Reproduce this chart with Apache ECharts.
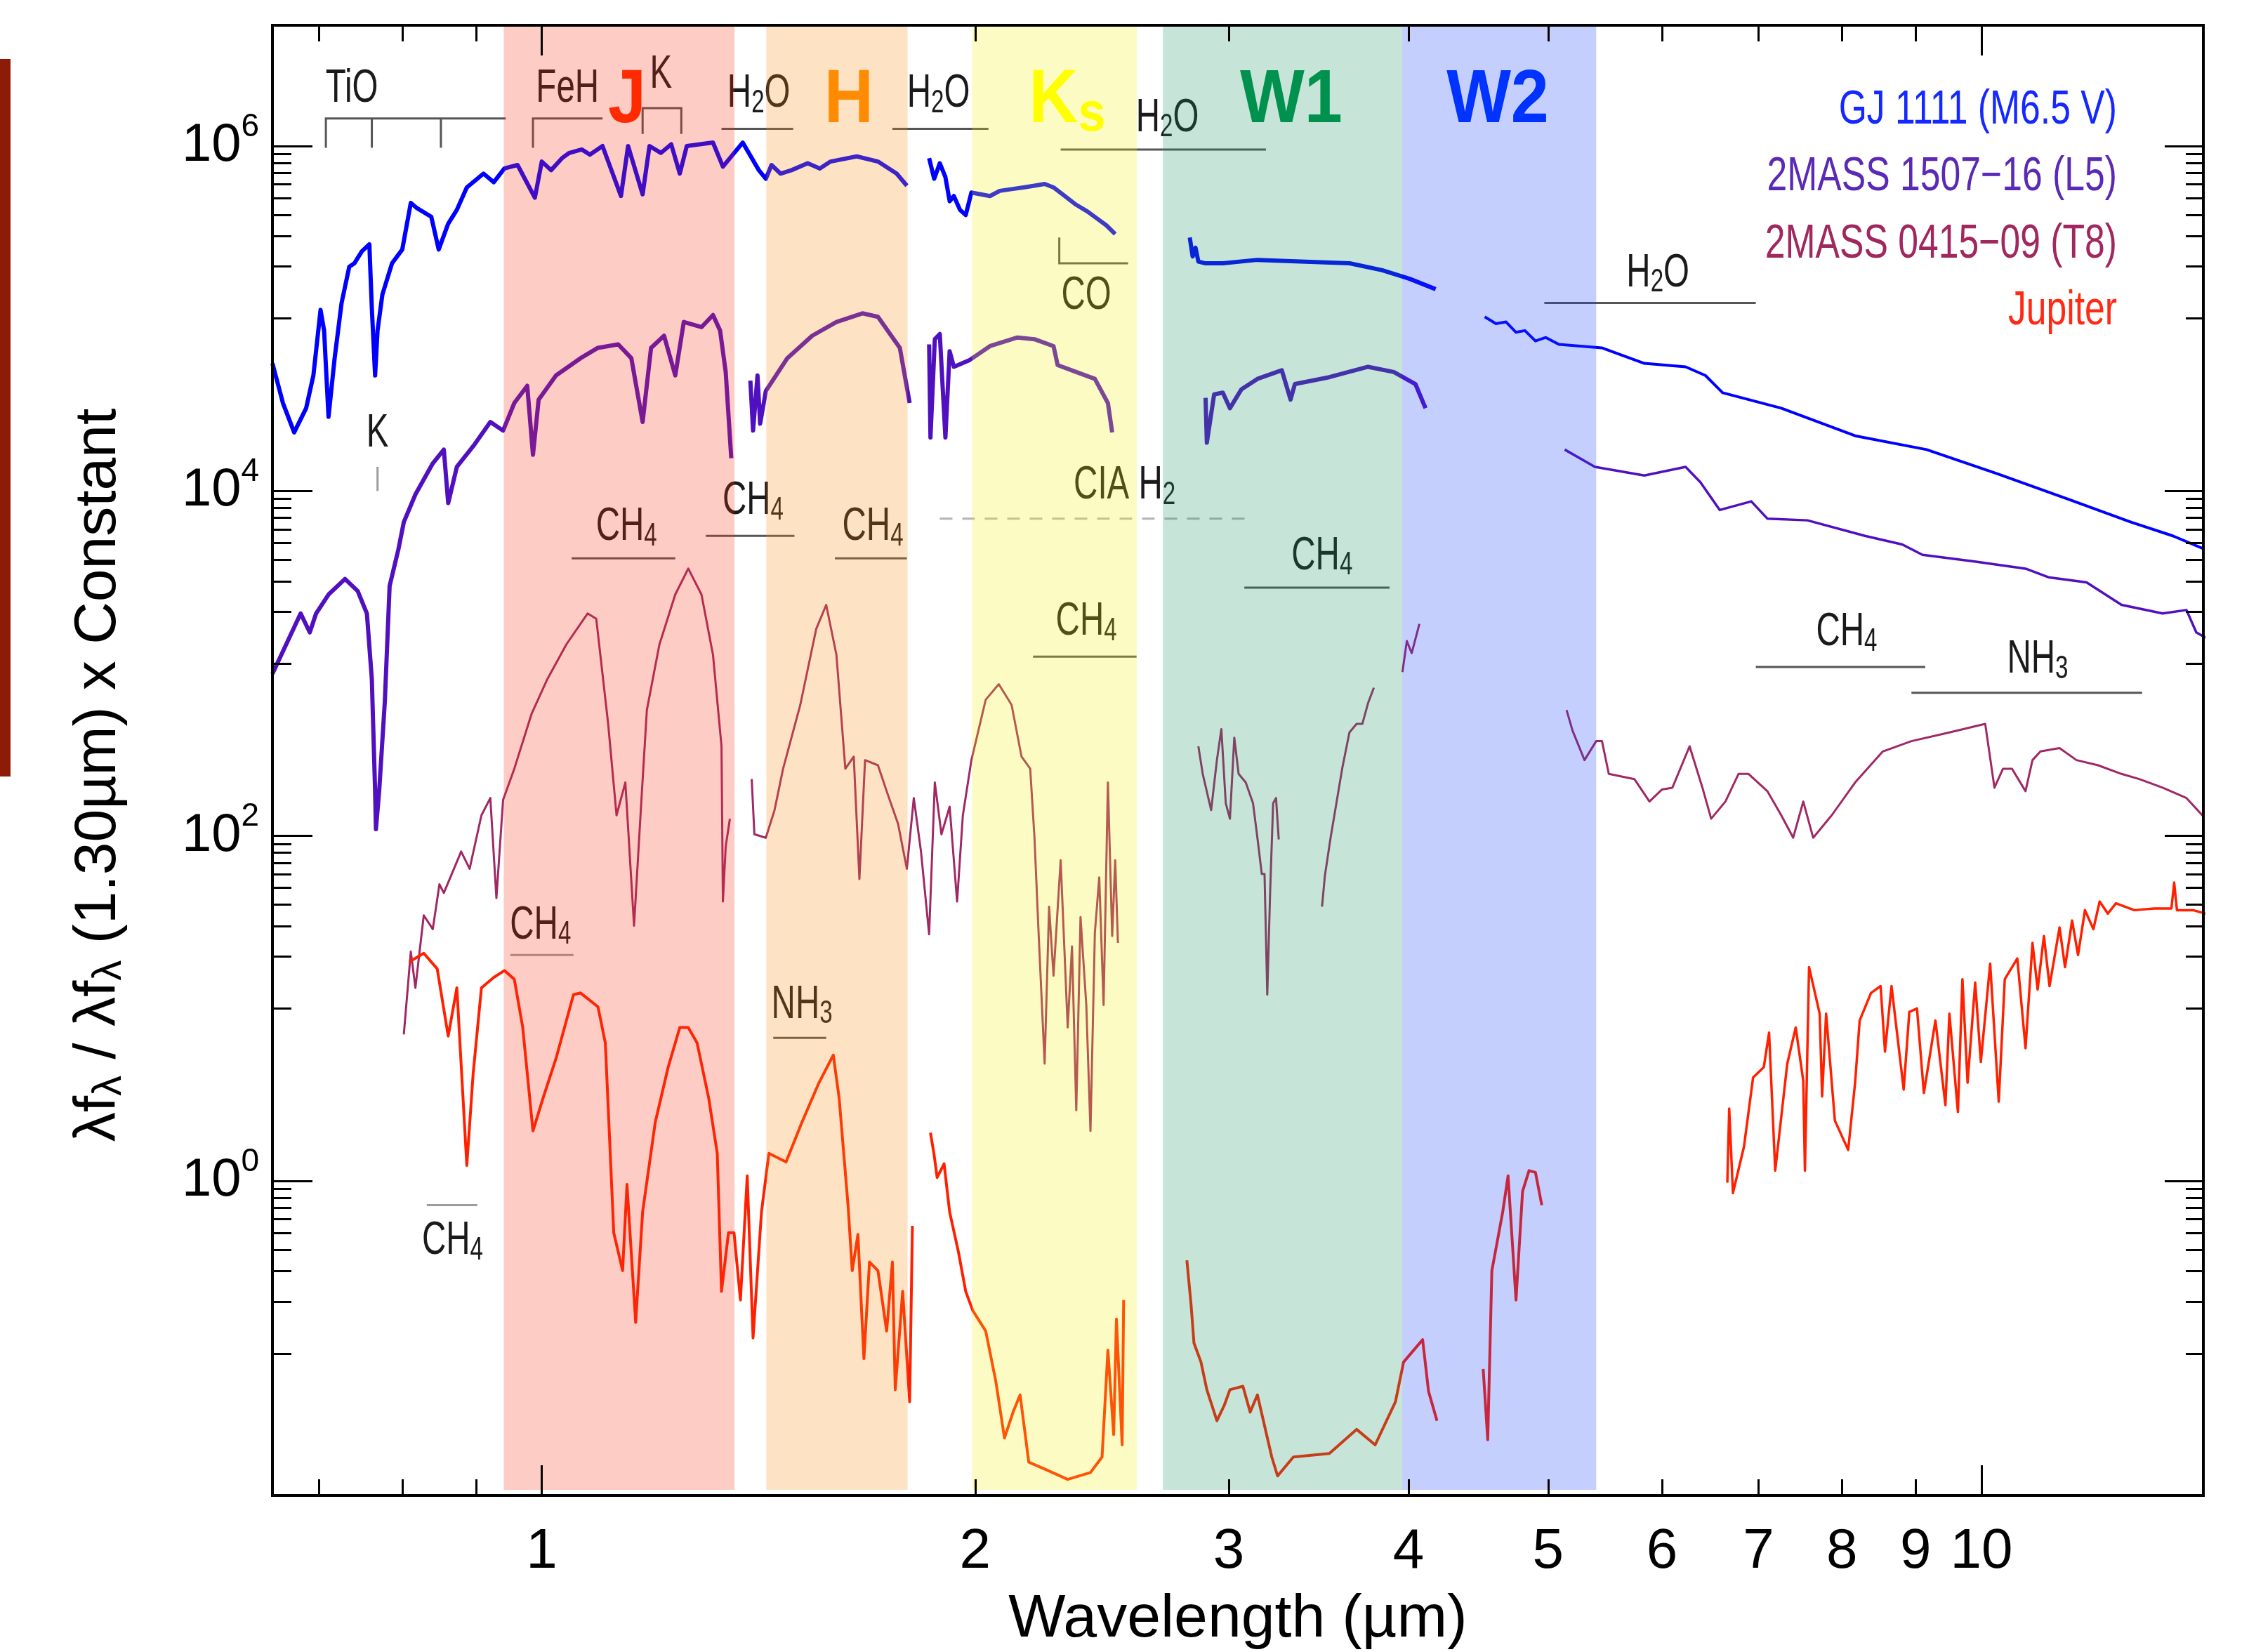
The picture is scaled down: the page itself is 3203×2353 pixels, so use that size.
<!DOCTYPE html>
<html>
<head>
<meta charset="utf-8">
<title>GJ 1111, 2MASS 1507-16, 2MASS 0415-09 and Jupiter spectra</title>
<script src="https://cdn.jsdelivr.net/npm/echarts@6/dist/echarts.min.js"></script>
<style>
  html, body { margin: 0; padding: 0; background: #fff; }
  #chart { width: 3203px; height: 2353px; }
</style>
</head>
<body>
<div id="chart"></div>
<script>
// every point is [wavelength in µm, log10(λfλ / λfλ(1.30µm) x constant)]

// GJ 1111 (M6.5 V)
const gj1111 = [
  [[0.650,4.74],[0.661,4.51],[0.673,4.34],[0.686,4.48],[0.694,4.67],[0.702,5.05],[0.706,4.93],[0.711,4.43],[0.718,4.77],
   [0.726,5.09],[0.735,5.30],[0.741,5.32],[0.750,5.39],[0.759,5.43],[0.762,5.06],[0.766,4.67],[0.769,4.93],[0.775,5.14],
   [0.787,5.32],[0.800,5.40],[0.811,5.67],[0.819,5.64],[0.838,5.59],[0.848,5.40],[0.861,5.55],[0.873,5.63],[0.887,5.76],
   [0.911,5.84],[0.926,5.79],[0.942,5.87],[0.962,5.89],[0.989,5.70],[1.000,5.91],[1.015,5.86],[1.033,5.93],[1.045,5.96],
   [1.066,5.98],[1.080,5.95],[1.102,6.00],[1.135,5.71],[1.148,6.00],[1.175,5.72],[1.188,6.00],[1.210,5.96],[1.230,6.01],
   [1.247,5.84],[1.261,6.00],[1.315,6.02],[1.336,5.88],[1.379,6.02],[1.415,5.86],[1.431,5.81],[1.444,5.89],[1.465,5.84],
   [1.491,5.86],[1.530,5.90],[1.560,5.87],[1.587,5.91],[1.655,5.94],[1.712,5.91],[1.764,5.84],[1.793,5.77]],
  [[1.858,5.93],[1.873,5.81],[1.890,5.90],[1.907,5.82],[1.920,5.68],[1.933,5.71],[1.952,5.63],[1.970,5.60],[1.988,5.73],
   [2.048,5.71],[2.080,5.74],[2.120,5.75],[2.160,5.76],[2.199,5.77],[2.235,5.78],[2.267,5.76],[2.308,5.71],[2.350,5.66],
   [2.394,5.62],[2.430,5.58],[2.467,5.54],[2.502,5.49]],
  [[2.819,5.47],[2.832,5.36],[2.845,5.41],[2.858,5.33],[2.891,5.32],[2.972,5.32],[3.141,5.34],[3.367,5.33],[3.640,5.32],
   [3.835,5.28],[4.007,5.23],[4.177,5.17]],
  [[4.518,5.01],[4.600,4.97],[4.675,4.98],[4.750,4.92],[4.818,4.93],[4.900,4.87],[4.982,4.89],[5.087,4.85],[5.448,4.83],
   [5.832,4.74],[6.23,4.72],[6.43,4.67],[6.61,4.57],[7.26,4.48],[8.17,4.32],[9.16,4.24],[10.26,4.10],[11.51,3.95],
   [12.70,3.82],[13.58,3.74],[14.31,3.66]]
];

// 2MASS 1507-16 (L5)
const l5Dwarf = [
  [[0.650,2.94],[0.661,3.07],[0.680,3.29],[0.690,3.18],[0.697,3.29],[0.711,3.40],[0.730,3.49],[0.745,3.42],[0.756,3.29],
   [0.762,2.91],[0.766,2.26],[0.767,2.04],[0.771,2.26],[0.778,2.78],[0.784,3.45],[0.795,3.66],[0.802,3.82],[0.817,3.98],
   [0.840,4.16],[0.855,4.24],[0.861,3.93],[0.873,4.14],[0.898,4.27],[0.921,4.40],[0.940,4.35],[0.957,4.51],[0.977,4.61],
   [0.986,4.21],[0.995,4.53],[1.023,4.67],[1.064,4.77],[1.094,4.83],[1.130,4.85],[1.154,4.77],[1.175,4.40],[1.191,4.83],
   [1.216,4.90],[1.238,4.67],[1.255,4.98],[1.291,4.95],[1.315,5.02],[1.330,4.93],[1.342,4.69],[1.354,4.19]],
  [[1.396,4.64],[1.402,4.35],[1.412,4.67],[1.418,4.39],[1.431,4.58],[1.481,4.77],[1.541,4.90],[1.602,4.98],[1.670,5.03],
   [1.712,5.01],[1.773,4.83],[1.801,4.51]],
  [[1.858,4.85],[1.862,4.31],[1.875,4.88],[1.890,4.91],[1.907,4.31],[1.920,4.81],[1.933,4.72],[1.983,4.76],[2.048,4.84],
   [2.140,4.89],[2.199,4.88],[2.267,4.84],[2.282,4.73],[2.351,4.69],[2.422,4.65],[2.473,4.51],[2.490,4.34]],
  [[2.891,4.54],[2.897,4.28],[2.931,4.56],[2.972,4.57],[3.006,4.48],[3.062,4.59],[3.141,4.65],[3.266,4.70],[3.312,4.53],
   [3.335,4.62],[3.524,4.66],[3.749,4.72],[3.907,4.69],[4.044,4.62],[4.110,4.48]],
  [[5.135,4.24],[5.389,4.14],[5.832,4.09],[6.23,4.14],[6.38,4.05],[6.58,3.89],[6.92,3.94],[7.10,3.84],[7.57,3.83],
   [8.30,3.74],[8.81,3.69],[9.10,3.63],[9.91,3.59],[10.73,3.55],[11.13,3.50],[11.83,3.47],[12.51,3.34],[13.36,3.29],
   [13.88,3.31],[14.10,3.18],[14.31,3.15]]
];

// 2MASS 0415-09 (T8)
const t8Dwarf = [
  [[0.802,0.85],[0.811,1.33],[0.817,1.12],[0.828,1.54],[0.840,1.46],[0.849,1.72],[0.855,1.67],[0.879,1.91],[0.891,1.81],
   [0.908,2.12],[0.921,2.22],[0.930,1.64],[0.940,2.21],[0.957,2.39],[0.984,2.71],[1.009,2.91],[1.040,3.11],[1.076,3.29],
   [1.091,3.26],[1.112,2.65],[1.127,2.12],[1.143,2.31],[1.159,1.48],[1.172,2.17],[1.183,2.73],[1.207,3.11],[1.238,3.40],
   [1.264,3.55],[1.291,3.40],[1.315,3.05],[1.333,2.52],[1.336,1.62],[1.342,1.94],[1.351,2.10]],
  [[1.399,2.33],[1.405,2.01],[1.431,1.99],[1.451,2.15],[1.471,2.39],[1.512,2.76],[1.551,3.20],[1.576,3.34],[1.602,3.05],
   [1.625,2.39],[1.647,2.46],[1.662,1.75],[1.677,2.44],[1.712,2.41],[1.736,2.26],[1.768,2.07],[1.793,1.81],[1.813,2.22],
   [1.834,1.91],[1.858,1.43],[1.875,2.31],[1.895,2.01],[1.920,2.17],[1.943,1.62],[1.961,2.12],[1.988,2.44],[2.034,2.79],
   [2.077,2.88],[2.120,2.76],[2.154,2.46],[2.184,2.39],[2.199,1.99],[2.214,1.42],[2.235,0.68],[2.251,1.59],[2.267,1.19],
   [2.293,1.86],[2.319,0.89],[2.335,1.36],[2.351,0.41],[2.367,1.53],[2.389,1.02],[2.405,0.29],[2.422,1.44],[2.439,1.76],
   [2.456,1.02],[2.473,2.31],[2.490,1.42],[2.502,1.86],[2.513,1.38]],
  [[2.858,2.52],[2.878,2.36],[2.917,2.15],[2.944,2.44],[2.965,2.62],[2.986,2.19],[3.006,2.10],[3.027,2.57],[3.048,2.36],
   [3.083,2.31],[3.119,2.19],[3.141,1.99],[3.163,1.78],[3.177,1.78],[3.191,1.08],[3.206,1.69],[3.221,2.19],[3.236,2.22],
   [3.250,1.98]],
  [[3.483,1.59],[3.499,1.77],[3.531,1.99],[3.564,2.19],[3.597,2.39],[3.639,2.60],[3.681,2.65],[3.715,2.65],[3.749,2.77],
   [3.784,2.86]],
  [[3.961,2.95],[3.989,3.13],[4.020,3.06],[4.070,3.23]],
  [[5.15,2.73],[5.20,2.61],[5.30,2.44],[5.40,2.55],[5.45,2.55],[5.51,2.36],[5.74,2.33],[5.88,2.20],[6.00,2.27],[6.10,2.28],
   [6.27,2.52],[6.40,2.28],[6.49,2.10],[6.64,2.20],[6.78,2.36],[6.89,2.36],[7.10,2.26],[7.26,2.12],[7.40,1.99],[7.52,2.20],
   [7.64,1.99],[7.87,2.12],[8.17,2.31],[8.54,2.49],[8.94,2.55],[9.50,2.60],[10.06,2.65],[10.21,2.28],[10.35,2.39],
   [10.50,2.39],[10.73,2.26],[10.85,2.44],[10.99,2.49],[11.33,2.51],[11.64,2.44],[12.05,2.41],[12.51,2.36],[12.87,2.33],
   [13.36,2.28],[13.88,2.22],[14.31,2.10]]
];

// Jupiter
const jupiter = [
  [[0.809,1.27],[0.828,1.32],[0.846,1.23],[0.861,0.84],[0.873,1.12],[0.887,0.09],[0.896,0.62],[0.908,1.12],[0.926,1.18],
   [0.942,1.22],[0.957,1.17],[0.970,0.89],[0.986,0.29],[1.002,0.48],[1.023,0.71],[1.052,1.08],[1.064,1.09],[1.094,1.01],
   [1.107,0.80],[1.122,-0.30],[1.138,-0.52],[1.146,-0.02],[1.162,-0.82],[1.175,-0.18],[1.199,0.34],[1.224,0.66],
   [1.247,0.89],[1.264,0.89],[1.282,0.80],[1.306,0.48],[1.324,0.16],[1.333,-0.64],[1.348,-0.30],[1.360,-0.30],
   [1.374,-0.69],[1.389,0.03],[1.402,-0.91],[1.421,-0.18],[1.438,0.16],[1.478,0.11],[1.516,0.34],[1.558,0.57],
   [1.594,0.73],[1.609,0.48],[1.632,-0.14],[1.643,-0.52],[1.658,-0.31],[1.674,-1.03],[1.689,-0.47],[1.712,-0.52],
   [1.736,-0.87],[1.752,-0.47],[1.760,-1.21],[1.781,-0.64],[1.801,-1.28],[1.809,-0.26]],
  [[1.862,0.28],[1.873,0.15],[1.882,0.02],[1.903,0.10],[1.920,-0.18],[1.947,-0.41],[1.970,-0.64],[1.992,-0.75],
   [2.034,-0.87],[2.067,-1.16],[2.096,-1.49],[2.125,-1.34],[2.149,-1.24],[2.179,-1.63],[2.235,-1.67],[2.319,-1.73],
   [2.405,-1.69],[2.450,-1.60],[2.473,-0.98],[2.496,-1.47],[2.507,-0.80],[2.530,-1.53],[2.536,-0.69]],
  [[2.806,-0.46],[2.825,-0.72],[2.838,-0.94],[2.870,-1.05],[2.897,-1.21],[2.944,-1.39],[2.979,-1.30],[3.006,-1.21],
   [3.069,-1.19],[3.105,-1.34],[3.141,-1.24],[3.214,-1.60],[3.244,-1.71],[3.327,-1.60],[3.524,-1.58],[3.681,-1.44],
   [3.792,-1.53],[3.917,-1.28],[3.968,-1.05],[4.091,-0.92],[4.130,-1.22],[4.186,-1.39]],
  [[4.507,-1.09],[4.540,-1.50],[4.570,-0.52],[4.650,-0.18],[4.690,0.03],[4.750,-0.69],[4.800,-0.06],[4.850,0.06],
   [4.900,0.05],[4.950,-0.14]],
  [[6.66,-0.01],[6.68,0.42],[6.72,-0.07],[6.84,0.20],[6.94,0.60],[7.06,0.66],[7.12,0.86],[7.19,0.06],[7.33,0.68],
   [7.43,0.89],[7.52,0.58],[7.54,0.06],[7.59,1.24],[7.72,0.97],[7.75,0.49],[7.80,0.97],[7.91,0.35],[8.08,0.18],[8.17,0.57],
   [8.23,0.93],[8.38,1.09],[8.51,1.13],[8.57,0.75],[8.66,1.13],[8.83,0.53],[8.91,0.98],[9.02,1.00],[9.12,0.51],[9.29,0.93],
   [9.44,0.44],[9.50,0.97],[9.63,0.40],[9.70,1.17],[9.78,0.57],[9.90,1.15],[9.99,0.69],[10.14,1.26],[10.28,0.46],
   [10.38,1.17],[10.59,1.29],[10.73,0.77],[10.85,1.38],[10.94,1.11],[11.05,1.42],[11.15,1.13],[11.33,1.47],[11.43,1.24],
   [11.56,1.51],[11.67,1.31],[11.80,1.57],[11.96,1.46],[12.08,1.62],[12.24,1.55],[12.40,1.61],[12.77,1.57],[13.18,1.58],
   [13.55,1.58],[13.61,1.73],[13.67,1.57],[14.03,1.57],[14.31,1.55]]
];

// photometric bands, µm
const bandNames = ['J', 'H', 'Ks', 'W1', 'W2'];
const bandEdges = [[0.941, 1.361], [1.432, 1.795], [1.99, 2.59], [2.70, 3.96], [3.96, 5.40]];
const bandLabelAt = [[1.146, 6.26], [1.634, 6.26], [2.317, 6.26], [3.315, 6.26], [4.613, 6.26]];

// molecular features: label, label centre, bracket lines
const noteText = ['TiO', 'FeH', 'K', 'H2O', 'H2O', 'H2O', 'CO', 'K', 'CH4', 'CH4', 'CH4', 'CIA H2',
                  'CH4', 'CH4', 'H2O', 'CH4', 'NH3', 'CH4', 'NH3', 'CH4'];
const noteAt = [[0.738, 6.33], [1.042, 6.33], [1.210, 6.41], [1.415, 6.30], [1.886, 6.30], [2.72, 6.16],
                [2.389, 5.13], [0.769, 4.33], [1.145, 3.79], [1.402, 3.94], [1.698, 3.79], [2.54, 4.03],
                [2.389, 3.24], [3.483, 3.62], [5.96, 5.26], [8.06, 3.18], [10.94, 3.02], [0.998, 1.48],
                [1.516, 1.02], [0.867, -0.35]];
const noteLines = [
  [[[0.708, 5.99], [0.708, 6.16], [0.944, 6.16]], [[0.762, 5.99], [0.762, 6.16]], [[0.851, 5.99], [0.851, 6.16]]],
  [[[0.986, 5.99], [0.986, 6.16], [1.102, 6.16]]],
  [[[1.175, 6.07], [1.175, 6.22], [1.250, 6.22], [1.250, 6.07]]],
  [[[1.333, 6.10], [1.495, 6.10]]],
  [[[1.752, 6.10], [2.043, 6.10]]],
  [[[2.293, 5.98], [3.184, 5.98]]],
  [[[2.288, 5.47], [2.288, 5.32], [2.554, 5.32]]],
  [[[0.769, 4.14], [0.769, 4.00]]],
  [[[1.049, 3.61], [1.238, 3.61]]],
  [[[1.300, 3.74], [1.498, 3.74]]],
  [[[1.598, 3.61], [1.793, 3.61]]],
  [[[1.890, 3.84], [3.126, 3.84]]],
  [[[2.194, 3.04], [2.589, 3.04]]],
  [[[3.076, 3.44], [3.880, 3.44]]],
  [[[4.97, 5.09], [6.97, 5.09]]],
  [[[6.97, 2.98], [9.14, 2.98]]],
  [[[8.94, 2.83], [12.93, 2.83]]],
  [[[0.951, 1.31], [1.052, 1.31]]],
  [[[1.448, 0.83], [1.576, 0.83]]],
  [[[0.832, -0.14], [0.902, -0.14]]]
];

const legendNames = ['GJ 1111 (M6.5 V)', '2MASS 1507\u221216 (L5)', '2MASS 0415\u221209 (T8)', 'Jupiter'];

// axes
const xLabelValues = [1, 2, 3, 4, 5, 6, 7, 8, 9, 10];
const xMinorTicks = [0.7, 0.8, 0.9, 2, 3, 4, 5, 6, 7, 8, 9];
const xMajorTicks = [1, 10];
const yLabelPowers = [0, 2, 4, 6];
const yMinorDecades = [-1, 1, 3, 5];

const LOG = Math.log10;
const FONT = "'Liberation Sans', Arial, Helvetica, sans-serif";
const X_MIN = 0.65, X_MAX = 14.26;   // µm at the frame
const Y_MIN = -1.823, Y_MAX = 6.70;  // log10 flux at the frame

const COLORS = { gj: '#0000ff', l5: '#5010c0', t8: '#a02864', jup: '#ff2000' };
// the noisy near-infrared pieces read as a thick band, the smooth tails as a thin line
const WIDTHS = { gj: [6, 6, 6, 4], l5: [6, 6, 6, 6, 3.5], t8: [3, 3, 3, 3, 3, 3], jup: [4, 4, 4, 4, 3.5] };
const legendColors = ['#1428ff', '#5a2ab4', '#a0285e', '#ff2a14'];
const bandFill = ['rgba(248,52,20,0.25)', 'rgba(248,144,20,0.25)', 'rgba(248,240,20,0.25)',
                  'rgba(28,152,100,0.25)', 'rgba(24,64,248,0.25)'];
const bandText = ['#ff2a00', '#ff8c00', '#ffff00', '#00914f', '#0033ff'];
const DASHED = new Set([11]);
const LIGHT = new Set([7, 17, 19]);

const yMinorTicks = [];
yMinorDecades.forEach(n => { for (let k = 1; k <= 9; k++) yMinorTicks.push(n + LOG(k)); });

const tickLine = { color: '#000', width: 3 };

function xAxisDef(position, ticks, len, labels) {
  const ax = {
    type: 'value', gridIndex: 0, position: position, min: LOG(X_MIN), max: LOG(X_MAX), z: 50,
    axisLine: { show: false, onZero: false },
    splitLine: { show: false },
    axisTick: { show: true, inside: true, length: len, customValues: ticks.map(LOG), lineStyle: tickLine },
    axisLabel: { show: false }
  };
  if (labels) {
    ax.axisLabel = {
      show: true, customValues: xLabelValues.map(LOG), interval: 0, margin: 41,
      fontSize: 80, fontFamily: FONT, color: '#000',
      formatter: v => String(Math.round(Math.pow(10, v)))
    };
    ax.name = 'Wavelength (\u00b5m)';
    ax.nameLocation = 'middle';
    ax.nameGap = 134;
    ax.nameTextStyle = { fontSize: 86, fontFamily: FONT, color: '#000' };
  }
  return ax;
}

function yAxisDef(position, ticks, len, labels) {
  const ax = {
    type: 'value', gridIndex: 0, position: position, min: Y_MIN, max: Y_MAX, z: 50,
    axisLine: { show: false, onZero: false },
    splitLine: { show: false },
    axisTick: { show: true, inside: true, length: len, customValues: ticks, lineStyle: tickLine },
    axisLabel: { show: false }
  };
  if (labels) {
    ax.axisLabel = {
      show: true, customValues: yLabelPowers, interval: 0, margin: 19,
      formatter: v => '{b|10}{e|' + Math.round(v) + '}',
      rich: {
        b: { fontSize: 76, fontFamily: FONT, color: '#000' },
        e: { fontSize: 46, fontFamily: FONT, color: '#000', padding: [0, 0, 54, 0] }
      }
    };
    ax.name = '{a|\u03bbf}{l|\u03bb}{a| / \u03bbf}{l|\u03bb}{a| (1.30\u00b5m) x Constant}';
    ax.nameLocation = 'middle';
    ax.nameRotate = 90;
    ax.nameGap = 203;
    ax.nameTextStyle = {
      fontSize: 84, fontFamily: FONT, color: '#000', padding: [0, 42, 0, 0],
      rich: {
        a: { fontSize: 84, fontFamily: FONT, color: '#000' },
        l: { fontSize: 58, fontFamily: FONT, color: '#000', padding: [30, 0, 0, 0] }
      }
    };
  }
  return ax;
}

function spectrum(name, segs, color, widths) {
  return segs.map((seg, i) => ({
    type: 'line', name: name, data: seg.map(p => [LOG(p[0]), p[1]]),
    symbol: 'none', showSymbol: false, silent: true, z: 3,
    lineStyle: { color: color, width: widths[i], join: 'round' }
  }));
}

// chemical formula -> rich text with subscript digits
function chem(t) {
  return t.split(/(\d)/).filter(Boolean)
    .map(p => /\d/.test(p) ? '{s|' + p + '}' : '{m|' + p + '}').join('');
}
const noteRich = {
  m: { fontSize: 66, fontFamily: FONT, fill: '#1a1a1a' },
  s: { fontSize: 46, fontFamily: FONT, fill: '#1a1a1a', padding: [26, 0, 0, 0] }
};

const bandSeries = {
  type: 'custom', name: 'bands', z: 20, silent: true,
  data: bandEdges.map(b => [LOG(b[0]), LOG(b[1])]),
  renderItem: function (params, api) {
    const cs = params.coordSys;
    const x0 = api.coord([api.value(0), 0])[0];
    const x1 = api.coord([api.value(1), 0])[0];
    return {
      type: 'rect',
      shape: { x: x0, y: cs.y, width: x1 - x0, height: cs.height - 8 },
      style: { fill: bandFill[params.dataIndex] }
    };
  }
};

const bandLabelSeries = {
  type: 'custom', name: 'band labels', z: 30, silent: true, clip: false,
  data: bandLabelAt.map(p => [LOG(p[0]), p[1]]),
  renderItem: function (params, api) {
    const c = api.coord([api.value(0), api.value(1)]);
    const name = bandNames[params.dataIndex];
    const color = bandText[params.dataIndex];
    const text = name === 'Ks' ? '{b|K}{t|s}' : '{b|' + name + '}';
    return {
      type: 'text', x: c[0], y: c[1], scaleX: 0.9,
      style: {
        text: text, align: 'center', verticalAlign: 'middle', fill: color,
        fontSize: 108, fontWeight: 'bold', fontFamily: FONT,
        rich: {
          b: { fontSize: 108, fontWeight: 'bold', fontFamily: FONT, fill: color },
          t: { fontSize: 78, fontWeight: 'bold', fontFamily: FONT, fill: color, padding: [40, 0, 0, 0] }
        }
      }
    };
  }
};

const noteSeries = {
  type: 'custom', name: 'features', z: 5, silent: true, clip: false,
  data: noteAt.map(p => [LOG(p[0]), p[1]]),
  renderItem: function (params, api) {
    const i = params.dataIndex;
    const dashed = DASHED.has(i);
    const stroke = dashed ? '#b4b4b4' : (LIGHT.has(i) ? '#9c9c9c' : '#555');
    const children = noteLines[i].map(line => ({
      type: 'polyline',
      shape: { points: line.map(p => api.coord([LOG(p[0]), p[1]])) },
      style: { stroke: stroke, lineWidth: 3, fill: 'none', lineDash: dashed ? [18, 14] : null }
    }));
    const c = api.coord([api.value(0), api.value(1)]);
    children.push({
      type: 'text', x: c[0], y: c[1], scaleX: 0.72,
      style: {
        text: chem(noteText[i]), rich: noteRich, align: 'center', verticalAlign: 'middle',
        fill: '#1a1a1a', fontSize: 66, fontFamily: FONT
      }
    });
    return { type: 'group', children: children };
  }
};

const chart = echarts.init(document.getElementById('chart'), null, { renderer: 'canvas' });

chart.setOption({
  animation: false,
  backgroundColor: '#fff',
  textStyle: { fontFamily: FONT },
  grid: {
    left: 388, right: 65, top: 36, bottom: 223, containLabel: false, outerBoundsMode: 'none',
    show: true, borderColor: '#000', borderWidth: 4, backgroundColor: 'transparent', z: 50
  },
  xAxis: [
    xAxisDef('bottom', xMinorTicks, 23, true),
    xAxisDef('bottom', xMajorTicks, 43, false),
    xAxisDef('top', xMinorTicks, 23, false),
    xAxisDef('top', xMajorTicks, 43, false)
  ],
  yAxis: [
    yAxisDef('left', yMinorTicks, 27, true),
    yAxisDef('left', yLabelPowers, 57, false),
    yAxisDef('right', yMinorTicks, 25, false),
    yAxisDef('right', yLabelPowers, 55, false)
  ],
  graphic: [
    { type: 'rect', z: 60, shape: { x: 0, y: 84, width: 15, height: 1022 }, style: { fill: '#8e1a08' } }
  ].concat(legendNames.map((name, i) => ({
    type: 'text', z: 60, x: 3015, y: 157 + i * 95.5, scaleX: 0.76,
    style: {
      text: name, fill: legendColors[i], fontSize: 68, fontFamily: FONT,
      align: 'right', verticalAlign: 'middle'
    }
  }))),
  series: [].concat(
    spectrum('GJ 1111 (M6.5 V)', gj1111, COLORS.gj, WIDTHS.gj),
    spectrum('2MASS 1507-16 (L5)', l5Dwarf, COLORS.l5, WIDTHS.l5),
    spectrum('2MASS 0415-09 (T8)', t8Dwarf, COLORS.t8, WIDTHS.t8),
    spectrum('Jupiter', jupiter, COLORS.jup, WIDTHS.jup),
    [noteSeries, bandSeries, bandLabelSeries]
  )
});
</script>
</body>
</html>
